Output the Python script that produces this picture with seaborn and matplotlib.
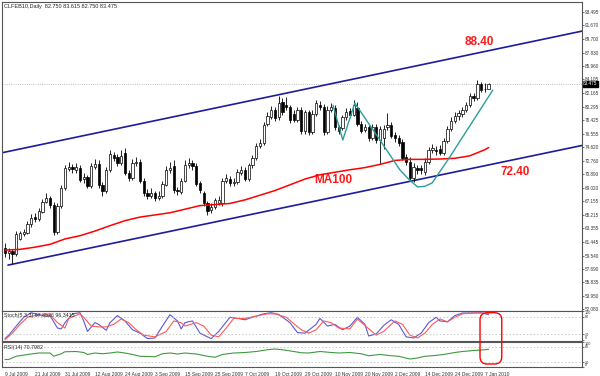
import numpy as np
import pandas as pd
import seaborn as sns
import matplotlib.pyplot as plt
from matplotlib.patches import FancyBboxPatch
import matplotlib.transforms as mtransforms

sns.set_style("white")
plt.rcParams['font.family'] = ['Liberation Sans', 'DejaVu Sans']

title = "CLFEB10,Daily  82.750 83.615 82.750 83.475"

# daily candles, 9 Jul 2009 .. 8 Jan 2010
opens = [60.6, 59.9, 60.1, 59.7, 61.9, 62.6, 62.7, 63.9, 64.9, 64.6,
         65.6, 67.0, 67.5, 66.6, 62.8, 66.4, 68.9, 71.6, 71.9, 71.5,
         71.8, 70.2, 70.5, 69.3, 71.9, 72.3, 69.4, 68.5, 71.5, 73.5,
         73.3, 72.5, 73.8, 71.0, 70.4, 72.4, 72.6, 70.0, 68.2, 67.8,
         68.2, 67.6, 67.8, 69.4, 71.5, 72.0, 68.7, 68.4, 70.0, 72.1,
         72.4, 72.0, 69.6, 68.3, 66.8, 65.9, 66.3, 66.9, 66.8, 70.0,
         70.2, 69.6, 69.8, 71.1, 71.5, 70.2, 72.1, 73.1, 74.8, 75.3,
         77.9, 78.9, 79.8, 78.9, 81.0, 80.6, 80.2, 79.3, 78.5, 79.9,
         76.9, 79.5, 76.8, 79.3, 80.6, 80.3, 76.8, 79.8, 80.1, 77.4,
         77.3, 78.8, 79.7, 79.2, 80.1, 77.9, 77.0, 77.4, 75.9, 77.4,
         75.6, 75.9, 77.4, 77.8, 76.4, 75.9, 75.4, 73.3, 72.6, 70.4,
         71.7, 71.7, 71.2, 72.6, 74.2, 74.3, 74.4, 73.8, 75.5, 77.2,
         78.3, 79.0, 79.3, 79.8, 80.6, 81.8, 81.5, 83.4, 82.7, 82.75]
highs = [61.3, 60.6, 60.5, 62.9, 63.0, 63.3, 64.4, 65.3, 65.4, 66.1,
         67.4, 68.2, 67.9, 67.0, 66.9, 69.4, 72.2, 72.6, 72.3, 72.5,
         72.2, 71.0, 70.8, 72.4, 73.0, 72.8, 69.8, 71.9, 74.3, 74.0,
         73.7, 74.3, 74.6, 71.5, 73.0, 73.3, 73.0, 70.3, 68.8, 69.0,
         68.5, 68.5, 69.9, 72.0, 72.6, 72.8, 69.1, 70.4, 72.8, 73.2,
         72.9, 72.5, 70.0, 68.6, 67.1, 66.8, 67.6, 67.8, 70.4, 70.9,
         70.6, 70.4, 71.6, 72.0, 71.9, 72.5, 73.6, 75.3, 75.8, 78.2,
         79.5, 80.4, 80.2, 81.8, 81.5, 81.7, 80.6, 79.8, 80.3, 80.3,
         79.9, 79.9, 79.8, 81.3, 81.1, 80.7, 80.4, 80.8, 80.5, 77.8,
         79.2, 80.1, 80.1, 81.2, 81.0, 78.3, 77.9, 77.8, 77.9, 77.9,
         77.6, 77.8, 79.4, 78.1, 76.8, 76.3, 75.8, 73.7, 73.3, 72.4,
         72.2, 72.1, 73.1, 74.7, 75.1, 74.8, 75.0, 75.9, 77.6, 78.8,
         79.5, 79.8, 80.3, 81.0, 82.2, 82.2, 84.0, 83.8, 83.6, 83.615]
lows = [59.3, 59.0, 58.3, 59.5, 61.7, 62.2, 62.5, 63.5, 64.2, 64.3,
        65.4, 66.8, 66.2, 62.4, 62.5, 66.2, 68.7, 71.3, 71.0, 71.1,
        69.8, 69.7, 68.9, 69.0, 71.6, 69.0, 67.9, 68.2, 71.2, 72.7,
        72.0, 72.2, 70.7, 70.0, 70.1, 72.0, 69.6, 67.8, 67.4, 67.5,
        67.1, 67.3, 67.5, 69.2, 71.1, 68.3, 68.0, 68.1, 69.8, 71.8,
        71.5, 69.2, 68.3, 66.4, 65.2, 65.5, 66.0, 66.6, 66.5, 69.6,
        69.2, 69.2, 69.5, 70.8, 69.9, 69.9, 71.8, 72.8, 74.5, 75.0,
        77.6, 78.6, 78.3, 78.5, 79.2, 79.8, 78.0, 78.1, 78.2, 76.5,
        76.5, 76.4, 76.5, 79.0, 79.9, 76.4, 76.5, 79.5, 77.0, 76.5,
        77.0, 78.5, 78.8, 79.0, 77.6, 76.6, 76.7, 75.5, 75.6, 75.2,
        72.3, 74.4, 77.1, 75.9, 75.4, 74.8, 72.8, 72.2, 70.0, 69.8,
        70.9, 70.9, 70.8, 72.3, 73.9, 73.6, 73.5, 73.5, 75.2, 76.9,
        78.0, 78.4, 78.9, 79.5, 80.3, 81.1, 81.2, 82.3, 82.3, 82.75]
closes = [59.9, 60.1, 59.7, 62.5, 62.7, 62.8, 64.0, 64.8, 64.6, 65.7,
          67.0, 67.5, 66.6, 62.8, 66.5, 69.0, 71.8, 71.9, 71.6, 71.9,
          70.1, 70.5, 69.3, 72.0, 72.3, 69.4, 68.5, 71.5, 73.7, 73.2,
          72.4, 73.4, 71.0, 70.4, 72.5, 72.6, 70.0, 68.2, 67.8, 68.3,
          67.6, 67.9, 69.5, 71.5, 71.8, 68.7, 68.6, 70.0, 72.2, 72.4,
          72.0, 69.5, 68.7, 66.8, 65.7, 66.3, 67.3, 67.3, 70.0, 70.3,
          69.6, 69.8, 71.2, 71.5, 70.2, 72.1, 73.1, 74.8, 75.3, 77.8,
          79.0, 79.9, 78.7, 80.8, 79.6, 80.2, 78.4, 78.5, 79.9, 76.9,
          79.5, 76.8, 79.3, 80.8, 80.3, 76.8, 79.8, 80.2, 77.4, 76.9,
          78.8, 79.6, 79.2, 80.6, 77.9, 76.9, 77.4, 75.9, 77.4, 75.6,
          77.2, 77.2, 77.8, 76.2, 75.9, 75.2, 73.1, 72.6, 70.4, 71.9,
          71.4, 71.4, 72.6, 74.3, 74.5, 74.1, 73.8, 75.5, 77.2, 78.3,
          79.0, 79.4, 79.9, 80.6, 81.8, 81.5, 83.4, 82.6, 82.75, 83.475]
last_price = 83.475

# MA100 read every 4 bars
ma_bar = [0, 4, 8, 12, 16, 20, 24, 28, 32, 36, 40, 44, 48, 52, 56, 60, 64,
          68, 72, 76, 80, 84, 88, 92, 96, 100, 104, 108, 112, 116, 120, 124, 128, 129]
ma_value = [60.3, 60.4, 60.7, 61.1, 61.85, 62.3, 62.95, 63.7, 64.4, 64.9, 65.2,
            65.5, 66.0, 66.5, 66.65, 66.8, 67.3, 67.95, 68.6, 69.4, 70.2, 70.8,
            71.15, 71.5, 71.8, 72.25, 72.8, 72.95, 72.95, 73.0, 73.1, 73.45, 74.3, 74.6]

# channel lines and the cup sketch (bar index, price)
upper_bar = [-1, 154]
upper_price = [73.85, 90.85]
lower_bar = [0.8, 154]
lower_price = [58.2, 74.9]
cup_bar = [87.5, 90.1, 93.3, 100, 105.3, 108, 110.1, 112, 113.9, 118.1, 130.1]
cup_price = [80.5, 75.65, 80.8, 75.65, 71.5, 70.0, 69.1, 69.2, 69.65, 72.85, 82.6]

# stochastic %K / %D
stk_bar = [0, 1, 3, 5, 7, 8, 11, 12, 14, 15, 16, 18, 20, 21, 22, 24, 25, 27, 28, 30,
           32, 34, 36, 38, 40, 42, 44, 46, 47, 48, 50, 52, 54, 55, 57, 60, 62, 64, 66,
           69, 71, 73, 76, 78, 80, 83, 84, 86, 88, 90, 92, 94, 96, 97, 99, 101, 103,
           105, 107, 109, 111, 113, 115, 116, 118, 120, 122, 125, 127, 129]
stk_k = [4, 16, 48, 79, 95, 91, 83, 85, 41, 38, 60, 91, 95, 66, 29, 60, 54, 33, 60, 85,
         66, 35, 23, 4, 6, 48, 88, 66, 38, 60, 66, 23, 10, 4, 29, 79, 75, 70, 79,
         91, 95, 89, 60, 25, 23, 54, 75, 48, 54, 35, 48, 79, 54, 13, 20, 50, 70,
         54, 10, 6, 23, 60, 79, 66, 63, 85, 94, 94, 95, 88]
std_bar = [0, 2, 4, 6, 8, 12, 14, 16, 17, 20, 21, 23, 25, 27, 29, 31, 33, 35, 37, 40,
           43, 45, 47, 48, 51, 53, 55, 57, 59, 61, 64, 67, 70, 72, 75, 79, 81, 83, 85,
           87, 89, 92, 94, 96, 99, 101, 104, 106, 108, 110, 112, 114, 116, 118, 120,
           122, 125, 127, 129]
std_d = [0, 23, 54, 79, 85, 88, 60, 41, 75, 91, 79, 48, 45, 45, 54, 73, 60, 35, 16, 10,
         29, 66, 60, 48, 60, 48, 16, 10, 41, 75, 75, 83, 91, 91, 79, 35, 23, 35, 66,
         60, 41, 38, 73, 50, 16, 29, 66, 54, 16, 6, 23, 54, 73, 63, 79,
         91, 94, 94, 91]

# RSI(14)
rsi_bar = [0, 1, 3, 6, 9, 12, 13, 15, 16, 19, 21, 22, 24, 26, 28, 30, 32, 34, 36, 40,
           42, 44, 46, 48, 51, 54, 56, 58, 61, 64, 67, 70, 72, 74, 77, 79, 81, 84, 87,
           89, 92, 95, 97, 100, 103, 105, 108, 110, 112, 114, 117, 120, 122, 125, 128, 129]
rsi_value = [30, 30, 43, 50, 56, 56, 43, 53, 61, 62, 58, 50, 56, 53, 56, 60, 56, 50, 43, 41,
             53, 56, 52, 56, 52, 43, 39, 50, 56, 58, 62, 69, 72, 69, 62, 57, 56, 62, 58,
             56, 58, 53, 45, 50, 45, 43, 32, 36, 43, 45, 50, 58, 62, 66, 69, 71]

price_ticks = [52.080, 53.950, 55.835, 57.690, 59.540, 61.445, 63.355, 65.215, 67.155,
               69.020, 70.890, 72.760, 74.620, 76.555, 78.425, 80.295, 82.165, 84.105,
               85.960, 87.830, 89.700, 91.670, 93.495]
date_bar = [0, 8, 16, 24, 32, 40, 48, 56, 64, 72, 80, 88, 96, 104, 112, 120, 128]
date_labels = ['9 Jul 2009', '21 Jul 2009', '31 Jul 2009', '12 Aug 2009', '24 Aug 2009',
               '3 Sep 2009', '15 Sep 2009', '25 Sep 2009', '7 Oct 2009', '19 Oct 2009',
               '29 Oct 2009', '10 Nov 2009', '20 Nov 2009', '2 Dec 2009', '14 Dec 2009',
               '24 Dec 2009', '7 Jan 2010']

df = pd.DataFrame({'open': opens, 'high': highs, 'low': lows, 'close': closes})
df['bar'] = np.arange(len(df))
bull = df['close'] >= df['open']

fig = plt.figure(figsize=(6, 3.76), dpi=100)
ax = fig.add_axes([2 / 600, 1 - 311 / 376, 580 / 600, 309 / 376])
ax_st = fig.add_axes([2 / 600, 1 - 341 / 376, 580 / 600, 30 / 376], sharex=ax)
ax_rsi = fig.add_axes([2 / 600, 1 - 367 / 376, 580 / 600, 25 / 376], sharex=ax)

# candles
ax.vlines(df['bar'], df['low'], df['high'], color='black', lw=0.6, zorder=3)
body = (df['close'] - df['open']).abs().clip(lower=0.08)
bottom = df[['open', 'close']].min(axis=1)
ax.bar(df['bar'][bull], body[bull], bottom=bottom[bull], width=0.62,
       color='white', edgecolor='black', lw=0.5, zorder=4)
ax.bar(df['bar'][~bull], body[~bull], bottom=bottom[~bull], width=0.62,
       color='black', edgecolor='black', lw=0.5, zorder=4)

sns.lineplot(x=ma_bar, y=ma_value, ax=ax, color='#ff0000', lw=1.1, zorder=5)
sns.lineplot(x=upper_bar, y=upper_price, ax=ax, color='#1c1c9c', lw=1.2, zorder=2)
sns.lineplot(x=lower_bar, y=lower_price, ax=ax, color='#1c1c9c', lw=1.2, zorder=2)
sns.lineplot(x=cup_bar, y=cup_price, ax=ax, color='#2a9d9d', lw=1.0, zorder=6, sort=False)
ax.axhline(last_price, color='#aaaaaa', ls=':', lw=0.6, zorder=1)

ax.text(126.4, 89.3, '88.40', color='#ff1a1a', fontsize=8.5, fontweight='bold', ha='center', va='center')
ax.text(136, 71.2, '72.40', color='#ff1a1a', fontsize=8.5, fontweight='bold', ha='center', va='center')
ax.text(87.5, 70.1, 'MA100', color='#ff1a1a', fontsize=8.5, fontweight='bold', ha='center', va='center')
ax.text(0.004, 0.995, title, transform=ax.transAxes, fontsize=4.0, va='top', ha='left')

ax.set_xlim(-0.8, 153.9)
ax.set_ylim(51.8, 94.9)
ax.yaxis.tick_right()
ax.set_yticks(price_ticks)
ax.set_yticklabels([f'{v:.3f}' for v in price_ticks], fontsize=3.3)
blend = mtransforms.blended_transform_factory(ax.transAxes, ax.transData)
ax.text(1.002, last_price, f'{last_price:.3f}', transform=blend, fontsize=3.3, color='white',
        va='center', ha='left', clip_on=False,
        bbox=dict(boxstyle='square,pad=0.1', fc='black', ec='black'))

# stochastic pane
sns.lineplot(x=stk_bar, y=stk_k, ax=ax_st, color='#5a5ad6', lw=0.8)
sns.lineplot(x=std_bar, y=std_d, ax=ax_st, color='#ff5a5a', lw=0.8)
for lvl in [80, 20]:
    ax_st.axhline(lvl, color='#b0b0b0', ls=(0, (2, 3)), lw=0.5)
ax_st.set_ylim(-4.6, 101)
ax_st.text(0.004, 0.93, 'Stoch(5,3,3) 97.8526 96.3415', transform=ax_st.transAxes, fontsize=3.8, va='top')

# RSI pane
sns.lineplot(x=rsi_bar, y=rsi_value, ax=ax_rsi, color='#3f9a3f', lw=0.8)
for lvl in [80, 20]:
    ax_rsi.axhline(lvl, color='#b0b0b0', ls=(0, (2, 3)), lw=0.5)
ax_rsi.set_ylim(0, 100)
ax_rsi.text(0.004, 0.9, 'RSI(14) 70.7982', transform=ax_rsi.transAxes, fontsize=3.8, va='top')

for a in (ax_st, ax_rsi):
    a.yaxis.tick_right()
    a.set_yticks([100, 80, 20, 0])
    a.set_yticklabels(['100', '80', '20', '0'], fontsize=2.7)
    labs = a.get_yticklabels()
    labs[0].set_va('top')
    labs[3].set_va('bottom')

ax_rsi.set_xticks(date_bar)
ax_rsi.set_xticklabels(date_labels, fontsize=3.5, ha='left')
offset = mtransforms.ScaledTranslation(-3 / 100, 0, fig.dpi_scale_trans)
for lab in ax_rsi.get_xticklabels():
    lab.set_transform(lab.get_transform() + offset)

for a in (ax, ax_st, ax_rsi):
    a.set_xlabel('')
    a.set_ylabel('')
    a.tick_params(axis='y', length=1.5, width=0.5, pad=0.6, colors='#333333')
    a.tick_params(axis='x', length=2, width=0.5, pad=1.5, colors='#333333')
    for s in a.spines.values():
        s.set_color('#555555')
        s.set_linewidth(0.8)
ax.tick_params(axis='x', labelbottom=False, length=0)
ax_st.tick_params(axis='x', labelbottom=False, length=0)

# red rounded box over the last bars of both indicator panes
inv = fig.transFigure.inverted()
x0, y1 = inv.transform(ax_st.transData.transform((126.7, 95)))
x1, y0 = inv.transform(ax_rsi.transData.transform((132.5, 12)))
box = FancyBboxPatch((x0, y0), x1 - x0, y1 - y0, transform=fig.transFigure,
                     boxstyle='round,pad=0,rounding_size=0.012', mutation_aspect=600 / 376,
                     fc='none', ec='#ff0000', lw=1.0, zorder=10)
fig.patches.append(box)

fig.savefig('out.png', dpi=100)
